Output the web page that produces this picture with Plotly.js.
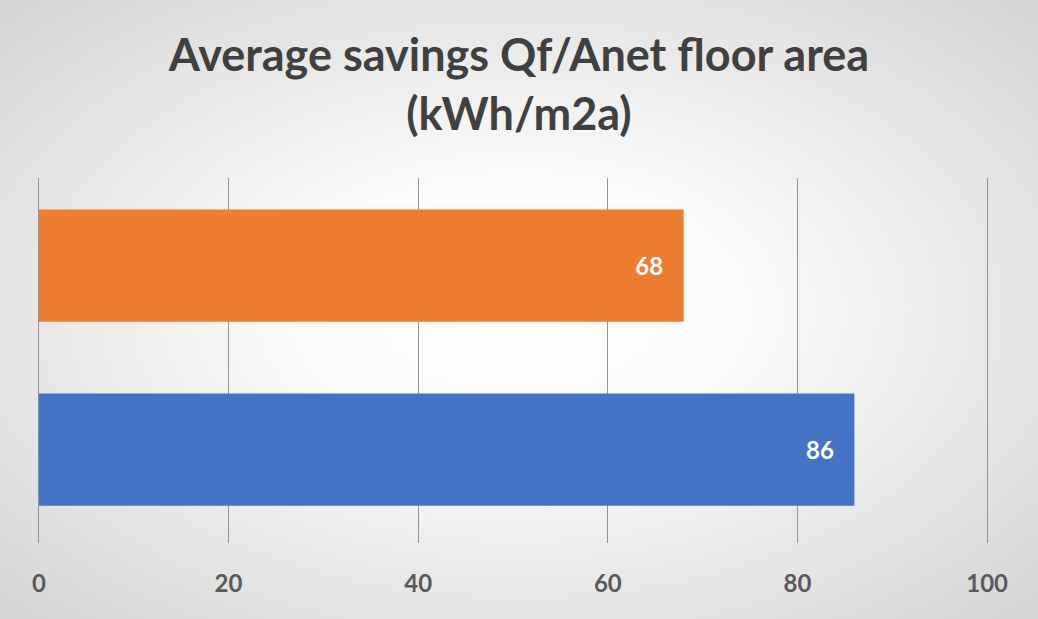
<!DOCTYPE html>
<html>
<head>
<meta charset="utf-8">
<script src="https://cdn.plot.ly/plotly-3.0.1.min.js"></script>
<style>
html,body{margin:0;padding:0;}
#chart{width:1038px;height:619px;background:radial-gradient(ellipse at 50% 50%, #ffffff 0%, #fbfbfb 30%, #e2e2e2 75%, #d4d4d4 100%);}
</style>
</head>
<body>
<div id="chart"></div>
<script>
const categories = ['Series 1', 'Series 2'];
const values = [86, 68];
const barColors = ['#4472C4', '#ED7D31'];
const labels = ['86', '68'];
const xTicks = [0, 20, 40, 60, 80, 100];

const trace = {
  type: 'bar',
  orientation: 'h',
  y: categories,
  x: values,
  marker: {color: barColors},
  text: labels,
  texttemplate: '%{text}\u00a0\u00a0\u00a0',
  textposition: 'inside',
  insidetextanchor: 'end',
  textfont: {family: 'Lato, sans-serif', size: 24, color: '#ffffff', weight: 'bold'},
  hoverinfo: 'x'
};

const layout = {
  width: 1038, height: 619,
  paper_bgcolor: 'rgba(0,0,0,0)',
  plot_bgcolor: 'rgba(0,0,0,0)',
  margin: {l: 37, r: 49, t: 178, b: 76},
  title: {
    text: 'Average savings Qf/Anet floor area<br>(kWh/m2a)',
    font: {family: 'Lato, sans-serif', size: 45, color: '#404040', weight: 'bold'},
    x: 0.5, xanchor: 'center',
    y: 0.885, yref: 'container', yanchor: 'top'
  },
  bargap: 0.39,
  showlegend: false,
  xaxis: {
    range: [-0.2, 100.2],
    tickvals: xTicks,
    ticktext: xTicks.map(String),
    showgrid: true,
    gridcolor: '#949494',
    gridwidth: 1,
    zeroline: false,
    showline: false,
    ticks: '',
    ticklabelstandoff: 24,
    tickfont: {family: 'Lato, sans-serif', size: 24, color: '#595959', weight: 'bold'}
  },
  yaxis: {
    range: [-0.508, 1.476],
    showticklabels: false,
    showgrid: false,
    zeroline: false,
    showline: false,
    ticks: ''
  }
};

Plotly.newPlot('chart', [trace], layout, {displayModeBar: false, staticPlot: true});
</script>
</body>
</html>
